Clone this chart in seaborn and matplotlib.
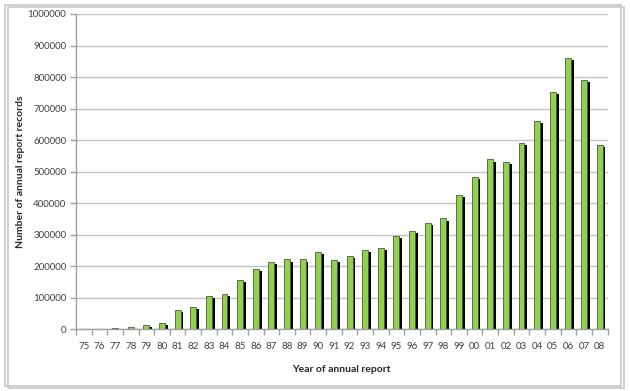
import numpy as np
import pandas as pd
import seaborn as sns
import matplotlib.pyplot as plt
import matplotlib.patheffects as pe
from matplotlib.patches import FancyBboxPatch
from matplotlib.ticker import StrMethodFormatter

# ----------------------------------------------------------------------------
# data
# ----------------------------------------------------------------------------
years = ["75", "76", "77", "78", "79", "80", "81", "82", "83", "84", "85",
         "86", "87", "88", "89", "90", "91", "92", "93", "94", "95", "96",
         "97", "98", "99", "00", "01", "02", "03", "04", "05", "06", "07", "08"]
records = [0, 2000, 5000, 9000, 13000, 21000, 61000, 71000, 105000, 113000,
           158000, 192000, 215000, 222000, 222000, 245000, 221000, 232000,
           252000, 259000, 297000, 313000, 338000, 352000, 426000, 483000,
           539000, 530000, 591000, 661000, 753000, 861000, 792000, 586000]

df = pd.DataFrame({"year": years, "records": records})

# ----------------------------------------------------------------------------
# plot
# ----------------------------------------------------------------------------
sns.set_style("whitegrid", {"grid.color": "#c4c4c4", "axes.edgecolor": "#a0a0a0"})
plt.rcParams['font.family'] = ['Lato', 'DejaVu Sans']

fig = plt.figure(figsize=(6.3, 3.91), dpi=100)
ax = fig.add_axes([0.1206, 0.1573, 0.8437, 0.8069])

# outer frame with a soft shadow
fig.patches.append(FancyBboxPatch((0.008, 0.014), 0.978, 0.974, boxstyle="square,pad=0",
                                  transform=fig.transFigure, facecolor="none",
                                  edgecolor="#c8c8c8", linewidth=1.2,
                                  path_effects=[pe.SimpleLineShadow(offset=(2, -2), shadow_color="#bbbbbb", alpha=0.8),
                                                pe.Normal()]))

sns.barplot(data=df, x="year", y="records", ax=ax, color="#92d050", saturation=1,
            width=0.38, edgecolor="#4a5a3a", linewidth=0.6)
for bar in ax.patches:
    bar.set_path_effects([pe.SimplePatchShadow(offset=(2, -1.5), shadow_rgbFace="black", alpha=1.0),
                          pe.Normal()])

ax.set_ylim(0, 1000000)
ax.set_xlim(-0.5, len(years) - 0.5)
ax.set_yticks(np.arange(0, 1000001, 100000))
ax.yaxis.set_major_formatter(StrMethodFormatter("{x:.0f}"))
ax.grid(axis="y", color="#c4c4c4", linewidth=1)
ax.grid(axis="x", visible=False)
ax.set_axisbelow(True)

for side in ["top", "right"]:
    ax.spines[side].set_visible(False)
for side in ["left", "bottom"]:
    ax.spines[side].set_color("#a0a0a0")
    ax.spines[side].set_linewidth(1)

# category ticks between bars (Excel-like)
ax.set_xticks(np.arange(-0.5, len(years), 1), minor=True)
ax.tick_params(axis="x", which="major", length=0, labelsize=7, colors="#404040", pad=9)
ax.tick_params(axis="x", which="minor", bottom=True, length=4, color="#a0a0a0", width=1)
ax.tick_params(axis="y", left=True, length=4, color="#a0a0a0", width=1, labelsize=7,
               labelcolor="#404040", pad=3)

ax.set_xlabel("Year of annual report", fontsize=7.5, fontweight="bold", labelpad=10)
ax.set_ylabel("Number of annual report records", fontsize=7.5, fontweight="bold", labelpad=2)

fig.savefig("out.png", dpi=100)
